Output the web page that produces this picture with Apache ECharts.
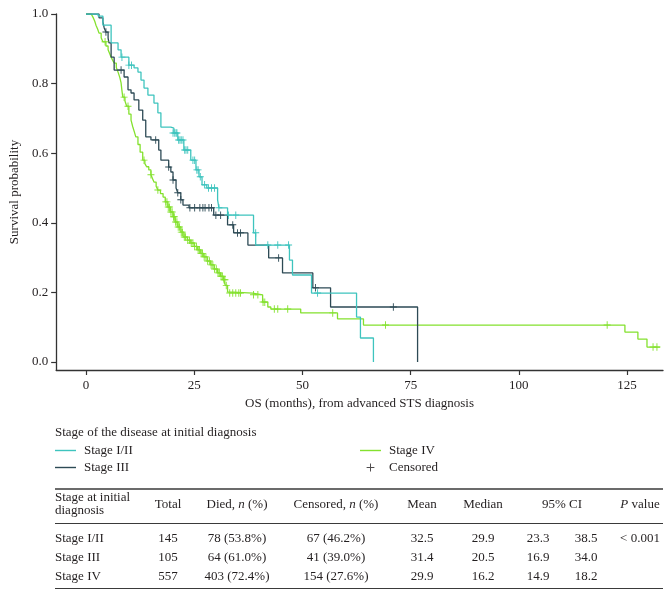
<!DOCTYPE html>
<html>
<head>
<meta charset="utf-8">
<script src="https://cdn.jsdelivr.net/npm/echarts@6/dist/echarts.min.js"></script>
<style>
html,body{margin:0;padding:0;background:#fff;}
#chart{width:672px;height:597px;}
</style>
</head>
<body>
<div id="chart"></div>
<script>
// ---- Kaplan-Meier step data: [months, survival probability] ----
const stageI_II = [[0,1.0],[2.8,0.994],[3.9,0.968],[5.8,0.917],[7.4,0.897],[8.1,0.876],[9.9,0.853],[11.1,0.845],[12.0,0.833],[12.7,0.810],[13.4,0.787],[14.3,0.767],[15.7,0.744],[16.6,0.716],[17.3,0.675],[19.6,0.672],[20.3,0.658],[21.2,0.638],[22.6,0.609],[24.2,0.580],[25.4,0.552],[26.1,0.532],[26.8,0.509],[27.9,0.500],[30.4,0.466],[30.7,0.443],[32.7,0.422],[38.7,0.371],[39.2,0.336],[47.0,0.293],[47.7,0.250],[52.1,0.198],[62.5,0.129],[63.4,0.069],[66.4,0.0]];
const stageIII = [[0,1.0],[3.0,0.989],[3.9,0.977],[4.2,0.960],[4.6,0.948],[5.1,0.931],[5.3,0.917],[5.8,0.876],[6.5,0.839],[8.8,0.819],[9.7,0.782],[10.4,0.773],[11.1,0.753],[12.2,0.724],[13.1,0.695],[13.8,0.647],[15.0,0.638],[16.8,0.609],[17.3,0.580],[19.1,0.560],[19.6,0.546],[20.1,0.523],[20.8,0.500],[21.2,0.486],[21.9,0.466],[22.4,0.451],[23.8,0.443],[29.5,0.422],[32.7,0.394],[34.1,0.371],[37.4,0.336],[42.2,0.299],[45.4,0.256],[52.4,0.213],[56.5,0.158],[76.6,0.0]];
const stageIV = [[0,1.0],[1.2,0.997],[1.6,0.991],[2.0,0.980],[2.3,0.968],[2.7,0.956],[3.0,0.945],[3.5,0.932],[3.9,0.920],[4.6,0.908],[5.1,0.897],[5.5,0.885],[5.8,0.876],[6.2,0.866],[6.5,0.859],[7.0,0.846],[7.4,0.833],[7.8,0.818],[8.1,0.802],[8.3,0.780],[8.5,0.761],[9.0,0.750],[9.4,0.735],[9.9,0.712],[10.4,0.695],[10.8,0.676],[11.2,0.660],[11.5,0.647],[12.0,0.625],[12.5,0.603],[13.1,0.580],[13.6,0.570],[14.0,0.561],[14.5,0.552],[15.0,0.538],[15.4,0.526],[15.7,0.517],[16.2,0.505],[16.6,0.494],[17.2,0.484],[17.8,0.474],[18.3,0.460],[18.9,0.445],[19.5,0.431],[20.1,0.417],[20.6,0.402],[21.2,0.388],[21.9,0.373],[22.6,0.359],[23.4,0.350],[24.2,0.342],[25.0,0.332],[25.8,0.322],[26.5,0.312],[27.2,0.302],[28.0,0.290],[28.8,0.279],[29.6,0.267],[30.4,0.256],[31.1,0.246],[31.8,0.236],[32.2,0.220],[32.7,0.201],[34.1,0.198],[38.5,0.193],[40.8,0.172],[42.0,0.158],[42.7,0.152],[49.6,0.141],[58.1,0.124],[64.1,0.106],[124.5,0.086],[127.5,0.066],[129.6,0.043],[132.6,0.043]];

// ---- censored observations: [months, survival probability] ----
const censI_II = [[8.3,0.876],[9.9,0.853],[10.5,0.853],[20.1,0.658],[20.5,0.658],[20.8,0.658],[21.0,0.658],[21.4,0.638],[21.7,0.638],[22.0,0.638],[22.4,0.638],[22.8,0.609],[23.1,0.609],[23.5,0.609],[24.7,0.580],[25.1,0.580],[25.6,0.552],[25.9,0.552],[26.4,0.532],[27.4,0.509],[28.3,0.500],[29.0,0.500],[29.7,0.500],[30.7,0.443],[32.9,0.422],[34.6,0.422],[39.2,0.371],[42.0,0.336],[44.3,0.336],[46.8,0.336],[53.5,0.198]];
const censIII = [[4.6,0.948],[8.1,0.839],[16.1,0.638],[19.1,0.560],[20.1,0.523],[21.2,0.486],[21.9,0.466],[24.0,0.443],[25.1,0.443],[26.3,0.443],[27.0,0.443],[27.5,0.443],[28.4,0.443],[29.0,0.443],[30.0,0.422],[31.1,0.422],[33.9,0.394],[35.0,0.371],[35.7,0.371],[44.5,0.299],[53.0,0.213],[71.0,0.158]];
const censIV = [[4.4,0.920],[8.8,0.761],[9.7,0.735],[13.4,0.580],[15.0,0.538],[16.6,0.494],[18.4,0.460],[18.7,0.460],[19.0,0.445],[19.3,0.445],[19.6,0.431],[19.9,0.431],[20.2,0.417],[20.4,0.417],[20.7,0.402],[21.0,0.402],[21.3,0.388],[21.6,0.388],[22.0,0.373],[22.3,0.373],[22.7,0.359],[23.0,0.359],[23.5,0.350],[23.9,0.350],[24.3,0.342],[24.7,0.342],[25.1,0.332],[25.5,0.332],[25.9,0.322],[26.2,0.322],[26.6,0.312],[26.9,0.312],[27.3,0.302],[27.7,0.302],[28.1,0.290],[28.5,0.290],[28.9,0.279],[29.3,0.279],[29.7,0.267],[30.1,0.267],[30.5,0.256],[30.8,0.256],[31.2,0.246],[31.5,0.246],[31.9,0.236],[32.1,0.236],[32.4,0.220],[33.2,0.198],[33.9,0.198],[34.6,0.198],[35.3,0.198],[35.7,0.198],[38.7,0.193],[39.7,0.193],[40.9,0.172],[41.3,0.172],[43.5,0.152],[44.3,0.152],[46.6,0.152],[57.0,0.141],[69.2,0.106],[120.4,0.106],[131.0,0.043],[131.9,0.043]];

// ---- axes ----
const xTicks = [0, 25, 50, 75, 100, 125];
const yTicks = [0, 0.2, 0.4, 0.6, 0.8, 1.0];
const seriesNames = ['Stage I/II', 'Stage III', 'Stage IV'];

// ---- table ----
const rowNames = ['Stage I/II', 'Stage III', 'Stage IV'];
const totals = ['145', '105', '557'];
const died = ['78 (53.8%)', '64 (61.0%)', '403 (72.4%)'];
const censored = ['67 (46.2%)', '41 (39.0%)', '154 (27.6%)'];
const means = ['32.5', '31.4', '29.9'];
const medians = ['29.9', '20.5', '16.2'];
const ciLow = ['23.3', '16.9', '14.9'];
const ciHigh = ['38.5', '34.0', '18.2'];
const pValues = ['< 0.001', '', ''];

const colors = ['#3ec4be', '#2d4a55', '#84e12e'];
const FONT = '"Liberation Serif","DejaVu Serif",serif';
const TXT = '#231f20';
const linePath = 'path://M0,0h21v1.4h-21z';
const plusPath = 'path://M0,3.1h7v0.9h-7zM3.05,0h0.9v7.2h-0.9z';

const chart = echarts.init(document.getElementById('chart'), null, {renderer: 'canvas'});

const curves = [stageI_II, stageIII, stageIV];
const cens = [censI_II, censIII, censIV];
const series = [];
curves.forEach((d, i) => {
  series.push({
    name: seriesNames[i], type: 'line', step: 'end', data: d,
    showSymbol: false, symbol: 'none', color: colors[i],
    lineStyle: {color: colors[i], width: 1.3}, itemStyle: {color: colors[i]},
    animation: false, z: 3 - i
  });
});
cens.forEach((d, i) => {
  series.push({
    name: seriesNames[i] + ' censored', type: 'scatter', data: d,
    symbol: plusPath, symbolSize: [7, 7.5],
    itemStyle: {color: colors[i], opacity: 1}, animation: false, z: 4
  });
});
series.push({name: 'Censored', type: 'scatter', data: [], symbol: plusPath, symbolSize: 7,
  itemStyle: {color: TXT}});

// table graphics
const g = [];
function txt(x, y, text, align, extra) {
  g.push(Object.assign({type: 'text', x: x, y: y,
    style: {text: text, font: '13px ' + FONT, fill: TXT, align: align || 'left', verticalAlign: 'middle'}}, extra || {}));
}
function rtxt(x, y, text, align) {
  g.push({type: 'text', x: x, y: y, style: {text: text, align: align, verticalAlign: 'middle',
    fill: TXT, font: '13px ' + FONT,
    rich: {a: {fontFamily: FONT, fontSize: 13, fill: TXT, color: TXT},
           i: {fontFamily: FONT, fontSize: 13, fontStyle: 'italic', fill: TXT, color: TXT}}}});
}
function hline(y, w) {
  g.push({type: 'line', shape: {x1: 55, y1: y, x2: 663, y2: y}, style: {stroke: '#3a3a3a', lineWidth: w}});
}
txt(55, 433, 'Stage of the disease at initial diagnosis');
hline(489, 1.3);
hline(523.5, 1);
hline(588.5, 1);
txt(55, 498, 'Stage at initial');
txt(55, 511, 'diagnosis');
const colX = {total: 168, died: 237, cens: 336, mean: 422, median: 483, ciL: 538, ciH: 586, p: 640};
txt(colX.total, 505, 'Total', 'center');
rtxt(colX.died, 505, '{a|Died, }{i|n}{a| (%)}', 'center');
rtxt(colX.cens, 505, '{a|Censored, }{i|n}{a| (%)}', 'center');
txt(colX.mean, 505, 'Mean', 'center');
txt(colX.median, 505, 'Median', 'center');
txt(562, 505, '95% CI', 'center');
rtxt(colX.p, 505, '{i|P}{a| value}', 'center');
const rowY = [539, 558, 577];
rowNames.forEach((r, i) => {
  const y = rowY[i];
  txt(55, y, r);
  txt(colX.total, y, totals[i], 'center');
  txt(colX.died, y, died[i], 'center');
  txt(colX.cens, y, censored[i], 'center');
  txt(colX.mean, y, means[i], 'center');
  txt(colX.median, y, medians[i], 'center');
  txt(colX.ciL, y, ciLow[i], 'center');
  txt(colX.ciH, y, ciHigh[i], 'center');
  txt(colX.p, y, pValues[i], 'center');
});

const legendText = {fontFamily: FONT, fontSize: 13, color: TXT, padding: [0, 0, 0, 3]};
chart.setOption({
  animation: false,
  backgroundColor: '#fff',
  grid: {left: 55, right: 9, top: 14, bottom: 227, containLabel: false},
  xAxis: {
    type: 'value', min: -6.9, max: 133.3,
    name: 'OS (months), from advanced STS diagnosis', nameLocation: 'middle', nameGap: 27,
    nameTextStyle: {fontFamily: FONT, fontSize: 13, color: TXT},
    axisLine: {show: true, onZero: false, lineStyle: {color: '#333', width: 1.3}},
    axisTick: {show: true, length: 5, customValues: xTicks, lineStyle: {color: '#333', width: 1.2}},
    axisLabel: {customValues: xTicks, margin: 9, fontFamily: FONT, fontSize: 13, color: TXT},
    splitLine: {show: false}
  },
  yAxis: {
    type: 'value', min: -0.023, max: 1.0,
    name: 'Survival probability', nameLocation: 'middle', nameGap: 34, nameRotate: 90,
    nameTextStyle: {fontFamily: FONT, fontSize: 13, color: TXT},
    axisLine: {show: true, onZero: false, lineStyle: {color: '#333', width: 1.3}},
    axisTick: {show: true, length: 5, customValues: yTicks, lineStyle: {color: '#333', width: 1.2}},
    axisLabel: {customValues: yTicks, margin: 8, fontFamily: FONT, fontSize: 13, color: TXT,
      formatter: v => v.toFixed(1)},
    splitLine: {show: false}
  },
  legend: [
    {left: 55, top: 444, orient: 'vertical', padding: 0, itemWidth: 21, itemHeight: 8, itemGap: 4,
     selectedMode: false, textStyle: legendText,
     data: [{name: 'Stage I/II', icon: linePath}, {name: 'Stage III', icon: linePath}]},
    {left: 360, top: 444, orient: 'vertical', padding: 0, itemWidth: 21, itemHeight: 8, itemGap: 4,
     selectedMode: false, textStyle: legendText,
     data: [{name: 'Stage IV', icon: linePath}, {name: 'Censored', icon: plusPath}]}
  ],
  series: series,
  graphic: g
});
</script>
</body>
</html>
